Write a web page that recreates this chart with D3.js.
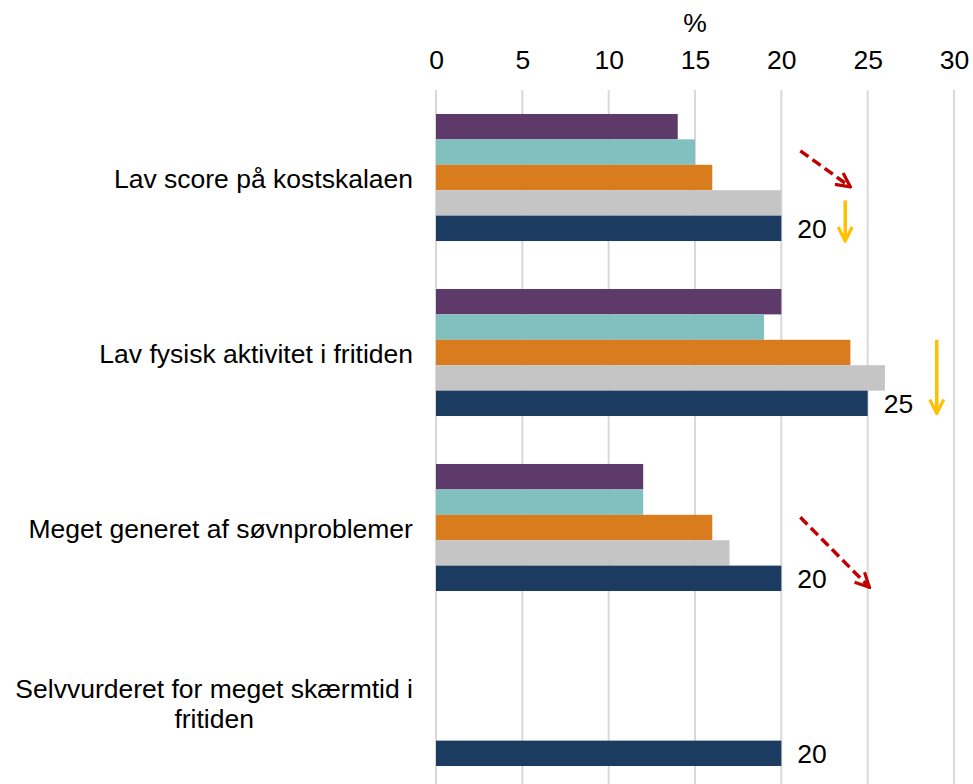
<!DOCTYPE html>
<html>
<head>
<meta charset="utf-8">
<script src="https://cdn.jsdelivr.net/npm/d3@7"></script>
<style>
  body { margin: 0; background: #fff; }
  svg { font-family: "Liberation Sans", Arial, sans-serif; }
</style>
</head>
<body>
<div id="chart"></div>
<script>
let categories = [
  'Lav score på kostskalaen',
  'Lav fysisk aktivitet i fritiden',
  'Meget generet af søvnproblemer',
  'Selvvurderet for meget skærmtid i fritiden'
];
let series = ['s1', 's2', 's3', 's4', 's5'];
let colors = ['#5e3a6b', '#82bfbf', '#d97c1e', '#c5c5c5', '#1b3b60'];
// one row per series, null = no bar
let values = [
  [14, 20, 12, null],
  [15, 19, 12, null],
  [16, 24, 16, null],
  [20, 26, 17, null],
  [20, 25, 20, 20]
];
let xTicks = [0, 5, 10, 15, 20, 25, 30];

// arrows: x in %, y in bar-slot units inside the category band
let arrows = [
  { cat: 0, x1: 21.1, y1: 1.45, x2: 24.0, y2: 2.87, kind: 'red' },
  { cat: 0, x1: 23.7, y1: 3.4, x2: 23.7, y2: 5.0, kind: 'yellow' },
  { cat: 1, x1: 29.0, y1: 2.0, x2: 29.0, y2: 4.9, kind: 'yellow' },
  { cat: 2, x1: 21.1, y1: 2.1, x2: 25.1, y2: 4.85, kind: 'red' }
];

const width = 973;
const height = 784;
const fontSize = 26.5;

const xScale = d3.scaleLinear().domain([0, 30]).range([436, 954]);
const yScale = d3.scaleBand()
  .domain(d3.range(categories.length))
  .range([90, 790])
  .paddingInner(0.274)
  .paddingOuter(0.137);
const slot = d3.scaleLinear().domain([0, series.length]).range([0, yScale.bandwidth()]);
const inner = d3.scaleBand().domain(d3.range(series.length)).range([0, yScale.bandwidth()]);

const svg = d3.select('#chart').append('svg')
  .attr('width', width)
  .attr('height', height);

// gridlines
svg.append('g')
  .attr('class', 'gridlines')
  .selectAll('line')
  .data(xTicks)
  .join('line')
  .attr('x1', d => xScale(d))
  .attr('x2', d => xScale(d))
  .attr('y1', 90)
  .attr('y2', height)
  .attr('stroke', '#d9d9d9')
  .attr('stroke-width', 2);

// top axis labels
const xAxis = d3.axisTop(xScale).tickValues(xTicks).tickSize(0).tickPadding(0);
const gx = svg.append('g')
  .attr('transform', 'translate(0, 69)')
  .call(xAxis);
gx.select('.domain').remove();
gx.selectAll('text')
  .attr('font-size', fontSize)
  .attr('fill', '#000')
  .attr('font-family', '"Liberation Sans", Arial, sans-serif');

svg.append('text')
  .attr('x', xScale(15))
  .attr('y', 32)
  .attr('text-anchor', 'middle')
  .attr('font-size', fontSize)
  .text('%');

// bars
series.forEach((s, i) => {
  svg.append('g')
    .selectAll('rect')
    .data(values[i].map((v, c) => ({ v, c })).filter(d => d.v != null))
    .join('rect')
    .attr('x', xScale(0))
    .attr('y', d => yScale(d.c) + inner(i))
    .attr('width', d => xScale(d.v) - xScale(0))
    .attr('height', inner.bandwidth())
    .attr('fill', colors[i]);
});

// value labels on the last series
const last = series.length - 1;
svg.append('g')
  .selectAll('text')
  .data(values[last].map((v, c) => ({ v, c })))
  .join('text')
  .attr('x', d => xScale(d.v) + 16)
  .attr('y', d => yScale(d.c) + inner(last) + inner.bandwidth() / 2)
  .attr('dy', '0.38em')
  .attr('font-size', fontSize)
  .text(d => d.v);

// category labels (wrapped lines centred in a right-aligned block)
const labelRight = 413;
const catG = svg.append('g');
categories.forEach((c, i) => {
  const cy = yScale(i) + yScale.bandwidth() / 2;
  const lines = i === 3 ? ['Selvvurderet for meget skærmtid i', 'fritiden'] : [c];
  const t = catG.append('text')
    .attr('font-size', fontSize)
    .attr('text-anchor', 'middle');
  lines.forEach((l, k) => {
    t.append('tspan')
      .attr('x', 0)
      .attr('y', cy + (k - (lines.length - 1) / 2) * 30)
      .attr('dy', '0.38em')
      .text(l);
  });
  const w = t.node().getBBox().width;
  t.selectAll('tspan').attr('x', labelRight - w / 2);
});

// arrow markers
const defs = svg.append('defs');
[['red', '#c00000'], ['yellow', '#ffc000']].forEach(([k, col]) => {
  defs.append('marker')
    .attr('id', 'head-' + k)
    .attr('viewBox', '0 0 10 10')
    .attr('refX', 9)
    .attr('refY', 5)
    .attr('markerWidth', 5)
    .attr('markerHeight', 5)
    .attr('markerUnits', 'strokeWidth')
    .attr('orient', 'auto')
    .append('path')
    .attr('d', 'M1,1 L9,5 L1,9')
    .attr('fill', 'none')
    .attr('stroke', col)
    .attr('stroke-width', 1.8);
});

svg.append('g')
  .selectAll('line')
  .data(arrows)
  .join('line')
  .attr('x1', d => xScale(d.x1))
  .attr('y1', d => yScale(d.cat) + slot(d.y1))
  .attr('x2', d => xScale(d.x2))
  .attr('y2', d => yScale(d.cat) + slot(d.y2))
  .attr('stroke', d => d.kind === 'red' ? '#c00000' : '#ffc000')
  .attr('stroke-width', 3.5)
  .attr('stroke-dasharray', d => d.kind === 'red' ? '10,5' : null)
  .attr('marker-end', d => 'url(#head-' + d.kind + ')');
</script>
</body>
</html>
